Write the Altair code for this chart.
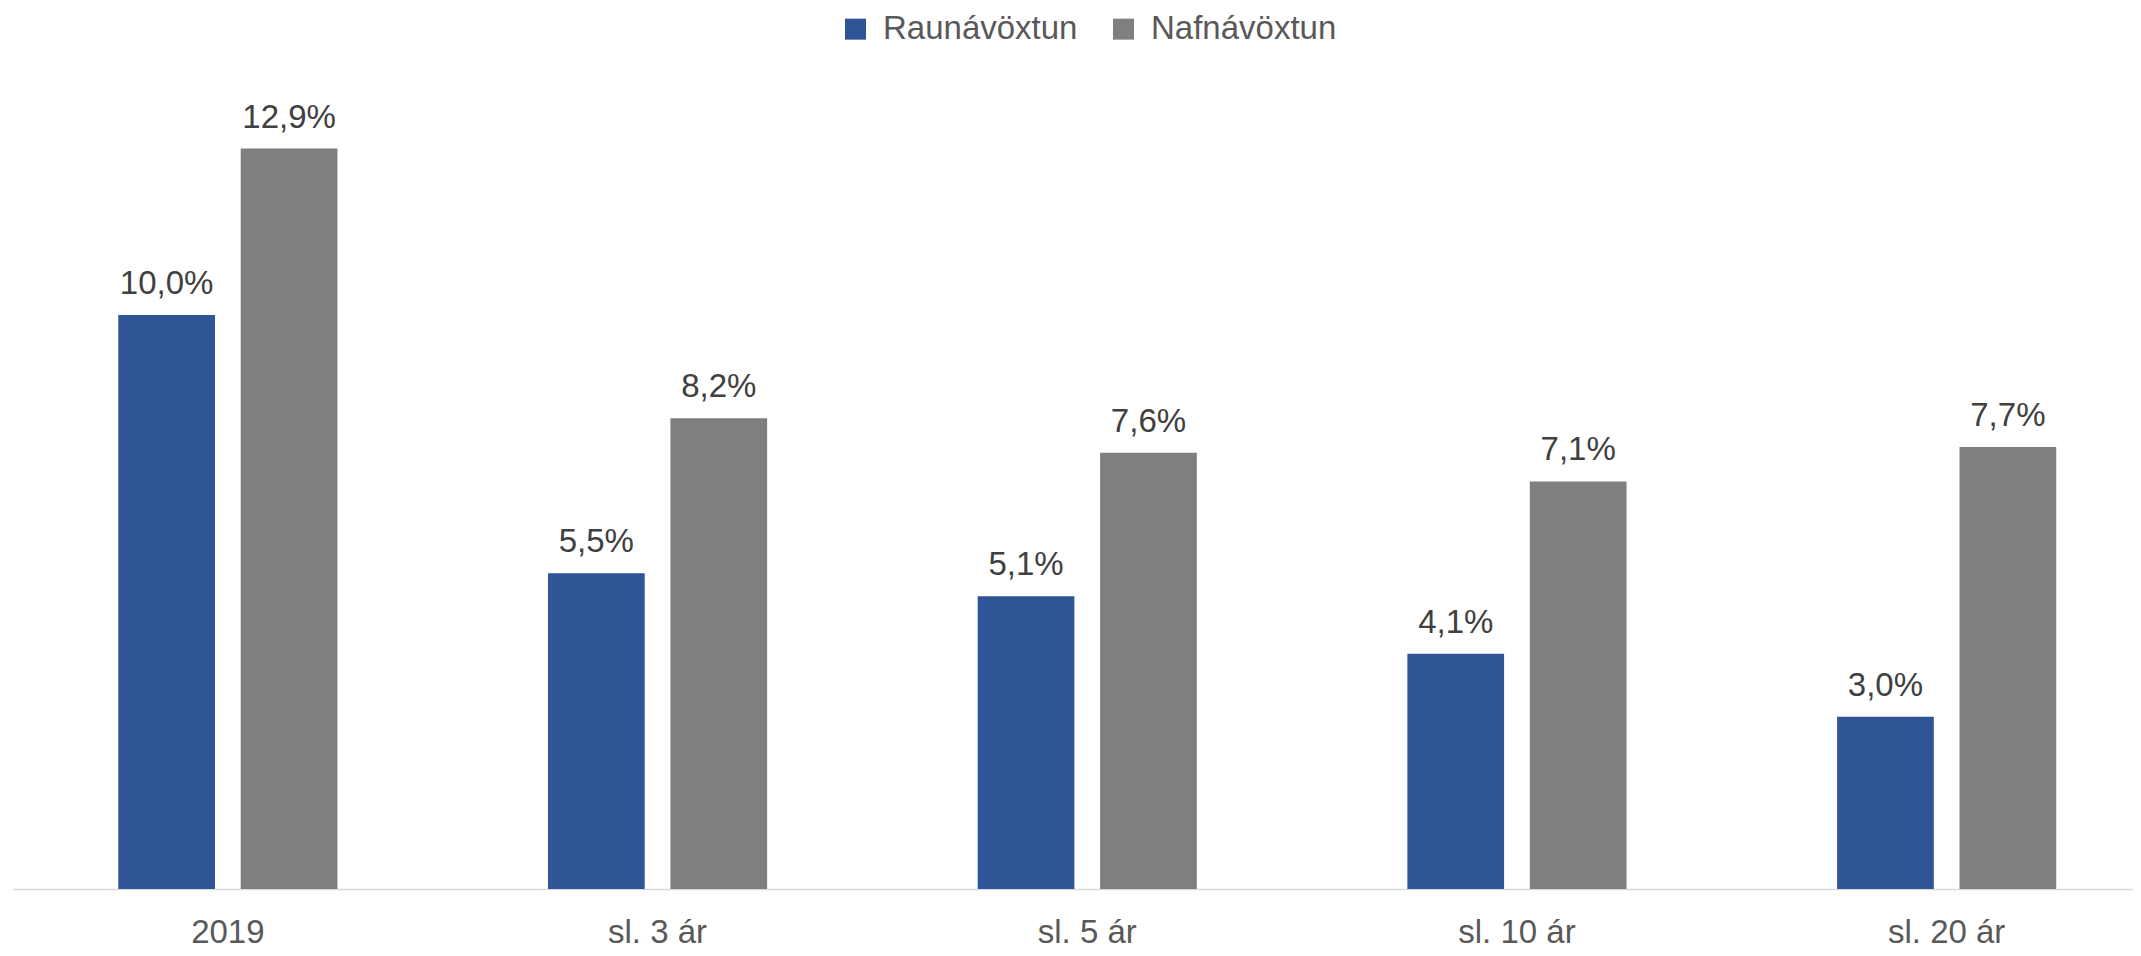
import altair as alt
import pandas as pd

categories = ["2019", "sl. 3 ár", "sl. 5 ár", "sl. 10 ár", "sl. 20 ár"]
series = ["Raunávöxtun", "Nafnávöxtun"]
raun = [10.0, 5.5, 5.1, 4.1, 3.0]
nafn = [12.9, 8.2, 7.6, 7.1, 7.7]
colors = ["#2f5597", "#7f7f7f"]

rows = []
for c, r, n in zip(categories, raun, nafn):
    rows.append({"cat": c, "series": series[0], "value": r})
    rows.append({"cat": c, "series": series[1], "value": n})
df = pd.DataFrame(rows)
df["label"] = df["value"].map(lambda v: f"{v:.1f}".replace(".", ",") + "%")

FONT = "Liberation Sans"

x = alt.X(
    "cat:N",
    sort=categories,
    title=None,
    scale=alt.Scale(range=[0, 2148.5], paddingInner=0.49, paddingOuter=0.245),
    axis=alt.Axis(
        labelAngle=0,
        ticks=False,
        labelPadding=27,
        labelFontSize=33,
        labelColor="#595959",
        labelFont=FONT,
        domainColor="#d9d9d9",
        domainWidth=1.5,
        grid=False,
    ),
)
xo = alt.XOffset("series:N", sort=series, scale=alt.Scale(paddingInner=0.21, paddingOuter=0))
y = alt.Y("value:Q", scale=alt.Scale(domain=[0, 14], nice=False), axis=None)
color = alt.Color(
    "series:N",
    sort=series,
    scale=alt.Scale(domain=series, range=colors),
    legend=alt.Legend(
        orient="none",
        legendX=826,
        legendY=-73,
        direction="horizontal",
        title=None,
        symbolType="square",
        symbolSize=441,
        symbolStrokeWidth=0,
        symbolOpacity=1,
        labelFontSize=33,
        labelColor="#595959",
        labelFont=FONT,
        labelOffset=11,
        labelLimit=0,
        columnPadding=29,
        padding=0,
    ),
)

bars = alt.Chart(df).mark_bar().encode(x=x, xOffset=xo, y=y, color=color)
labels = alt.Chart(df).mark_text(
    dy=-21, baseline="alphabetic", fontSize=33, color="#404040", font=FONT
).encode(x=x, xOffset=xo, y=y, text="label:N")

chart = (
    alt.layer(bars, labels)
    .properties(
        width=2120,
        height=803.6,
        padding={"left": 5, "top": 77.4, "right": 0, "bottom": 59},
        autosize=alt.AutoSizeParams(type="none"),
        background="white",
    )
    .configure_view(stroke=None, strokeWidth=0)
)

chart.save("out.html", embed_options={"renderer": "svg", "actions": False})
